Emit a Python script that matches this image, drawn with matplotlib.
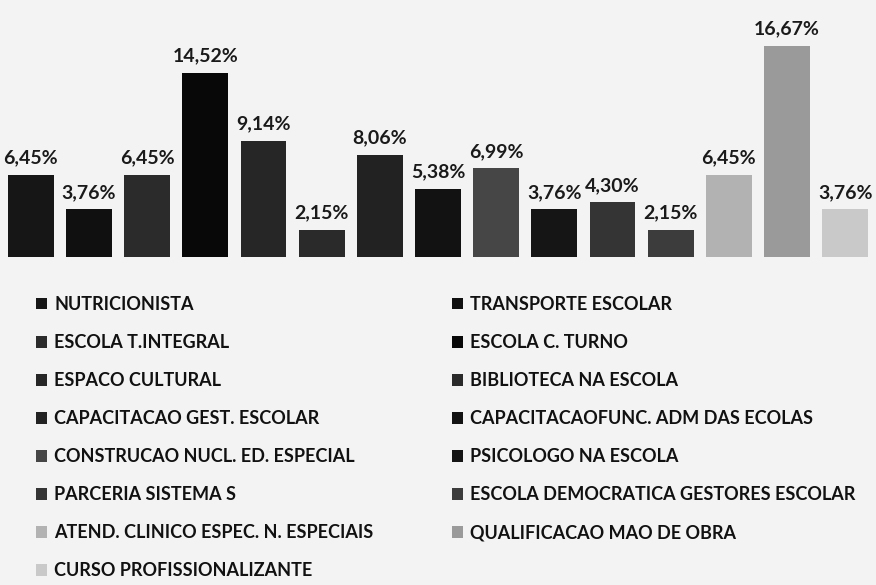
import matplotlib
matplotlib.use("Agg")
import matplotlib.pyplot as plt
from matplotlib.patches import Patch

categories = [
    "NUTRICIONISTA", "TRANSPORTE ESCOLAR", "ESCOLA T.INTEGRAL", "ESCOLA C. TURNO",
    "ESPACO CULTURAL", "BIBLIOTECA NA ESCOLA", "CAPACITACAO GEST. ESCOLAR",
    "CAPACITACAOFUNC. ADM DAS ECOLAS", "CONSTRUCAO NUCL. ED. ESPECIAL",
    "PSICOLOGO NA ESCOLA", "PARCERIA SISTEMA S", "ESCOLA DEMOCRATICA GESTORES ESCOLAR",
    "ATEND. CLINICO ESPEC. N. ESPECIAIS", "QUALIFICACAO MAO DE OBRA",
    "CURSO PROFISSIONALIZANTE",
]
values = [6.45, 3.76, 6.45, 14.52, 9.14, 2.15, 8.06, 5.38, 6.99, 3.76, 4.30, 2.15, 6.45, 16.67, 3.76]
labels = ["6,45%", "3,76%", "6,45%", "14,52%", "9,14%", "2,15%", "8,06%", "5,38%",
          "6,99%", "3,76%", "4,30%", "2,15%", "6,45%", "16,67%", "3,76%"]
colors = ["#161616", "#101010", "#2b2b2b", "#080808", "#262626", "#2a2a2a", "#222222",
          "#121212", "#464646", "#151515", "#343434", "#3c3c3c", "#b2b2b2", "#9a9a9a", "#c9c9c9"]

bg = "#f3f3f3"
fig = plt.figure(figsize=(8.76, 5.85), dpi=100, facecolor=bg)
ax = fig.add_axes([0.002, 0.561, 0.996, 0.39])
ax.set_facecolor(bg)
x = list(range(len(values)))
bars = ax.bar(x, values, width=0.79, color=colors)
ax.set_xlim(-0.5, len(values) - 0.5)
ax.set_ylim(0, 18)
ax.axis("off")

for b, lab in zip(bars, labels):
    ax.annotate(lab, (b.get_x() + b.get_width() / 2, b.get_height()),
                xytext=(0, 6), textcoords="offset points", ha="center", va="bottom",
                fontsize=14, fontweight="bold", family="Lato", color="#1a1a1a")

handles = [Patch(facecolor=c, edgecolor="none") for c in colors]
common = dict(frameon=False, handlelength=0.62, handleheight=0.62,
              handletextpad=0.4, labelspacing=1.165, borderpad=0, borderaxespad=0,
              prop={"family": "Lato", "size": 13, "weight": "bold"})
idx1 = list(range(0, 15, 2))
idx2 = list(range(1, 15, 2))
leg1 = fig.legend([handles[i] for i in idx1], [categories[i] for i in idx1],
                  loc="upper left", bbox_to_anchor=(36 / 876, 1 - 296 / 585), **common)
leg2 = fig.legend([handles[i] for i in idx2], [categories[i] for i in idx2],
                  loc="upper left", bbox_to_anchor=(452 / 876, 1 - 296 / 585), **common)
for leg in (leg1, leg2):
    for t in leg.get_texts():
        t.set_color("#111111")

fig.savefig("out.png", dpi=100, facecolor=bg)
